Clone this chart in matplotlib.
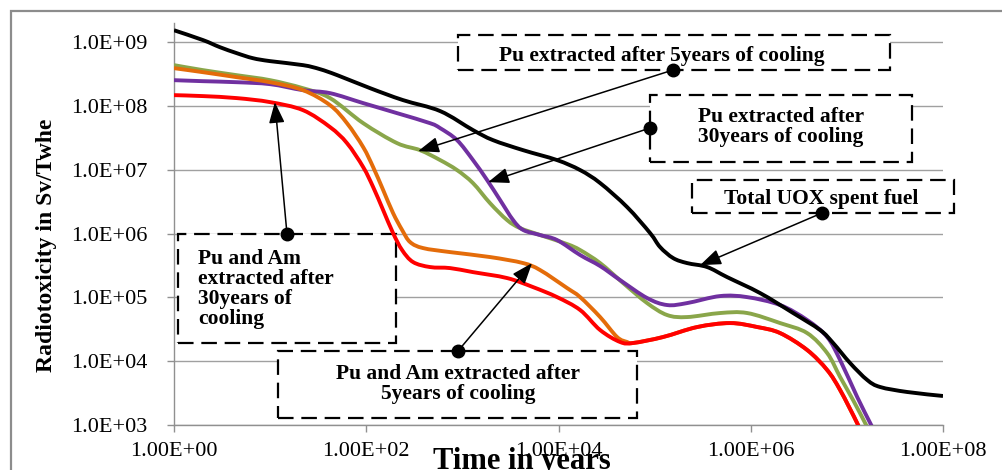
import matplotlib
matplotlib.use("Agg")
import numpy as np
import matplotlib.pyplot as plt
from matplotlib.patches import Rectangle, PathPatch
from matplotlib.path import Path
from matplotlib.lines import Line2D
from matplotlib.ticker import FixedLocator, FuncFormatter, NullLocator

# ---------------- data (years, Sv/TWhe) ----------------
t_total = [1, 2.0, 3.0, 4.5, 6.6, 10, 22, 33, 50, 110, 240, 590, 1290, 2080, 4290, 9660,
           16800, 27100, 51800, 89700, 114000, 156000, 218000, 352000, 568000, 1.25e6,
           2.76e6, 5.27e6, 7.19e6, 1.08e7, 1.63e7, 2.22e7, 4.25e7, 1.0e8]
v_total = [1.54e9, 1.08e9, 8.36e8, 6.73e8, 5.62e8, 5.05e8, 4.37e8, 3.78e8, 3.04e8, 1.90e8,
           1.24e8, 8.30e7, 4.19e7, 2.92e7, 2.03e7, 1.42e7, 9.9e6, 6.2e6, 2.6e6, 1.02e6,
           6.15e5, 4.13e5, 3.45e5, 2.99e5, 2.08e5, 1.17e5, 5.69e4, 3.08e4, 1.93e4, 9.36e3,
           5.07e3, 3.94e3, 3.29e3, 2.85e3]

t_pu5 = [1, 2.0, 4.5, 10, 22, 42, 93, 209, 363, 587, 880, 1290, 1940, 2920, 3980, 6440,
         12300, 16800, 27100, 47000, 83500, 135000, 218000, 481000, 918000, 2.02e6, 3.86e6,
         6.24e6, 8.51e6, 1.16e7, 1.55e7, 1.79e7]
v_pu5 = [4.37e8, 3.65e8, 3.04e8, 2.54e8, 1.90e8, 1.33e8, 5.38e7, 2.62e7, 2.03e7, 1.42e7,
         9.9e6, 6.18e6, 3.0e6, 1.63e6, 1.22e6, 9.5e5, 6.85e5, 5.52e5, 3.45e5, 1.68e5,
         8.15e4, 5.29e4, 4.92e4, 5.69e4, 5.69e4, 3.96e4, 2.76e4, 1.34e4, 5.65e3, 2.46e3,
         1.07e3, 6.97e2]

t_pu30 = [1, 2.0, 4.5, 10, 22, 42, 93, 209, 461, 587, 880, 1290, 1810, 2470, 3370, 4290,
          6440, 9670, 16800, 27100, 43700, 83500, 135000, 218000, 481000, 918000, 2.02e6,
          3.86e6, 6.24e6, 8.51e6, 1.28e7, 1.75e7, 2.02e7]
v_pu30 = [2.54e8, 2.45e8, 2.36e8, 2.20e8, 1.77e8, 1.59e8, 1.11e8, 7.73e7, 5.38e7, 4.50e7,
          2.92e7, 1.42e7, 6.89e6, 3.35e6, 1.63e6, 1.14e6, 9.49e5, 7.92e5, 4.61e5, 3.10e5,
          1.87e5, 9.77e4, 7.59e4, 8.15e4, 1.05e5, 1.01e5, 7.59e4, 4.42e4, 2.39e4, 1.04e4,
          2.75e3, 1.07e3, 6.97e2]

t_puam5 = [1, 2.0, 4.5, 10, 22, 42, 63, 93, 118, 150, 190, 236, 286, 390, 745, 1940, 4290,
           6440, 12300, 16800, 27100, 40700, 51800, 59800, 122000, 277000, 611000, 1.17e6,
           2.02e6, 3.86e6, 6.24e6, 8.51e6, 1.28e7, 1.44e7]
v_puam5 = [3.92e8, 3.39e8, 2.83e8, 2.36e8, 1.77e8, 1.03e8, 5.38e7, 2.26e7, 1.10e7, 4.81e6,
           2.10e6, 1.14e6, 7.36e5, 5.93e5, 5.13e5, 4.29e5, 3.45e5, 2.68e5, 1.40e5, 1.01e5,
           4.92e4, 2.39e4, 2.0e4, 1.93e4, 2.39e4, 3.43e4, 3.96e4, 3.43e4, 2.76e4, 1.50e4,
           7.27e3, 3.53e3, 1.07e3, 6.97e2]

t_puam30 = [1, 2.0, 4.5, 10, 22, 42, 63, 93, 118, 150, 190, 236, 307, 461, 745, 1290, 2920,
            5440, 9670, 16800, 27100, 43700, 59800, 122000, 277000, 611000, 1.17e6, 2.02e6,
            3.86e6, 6.24e6, 8.51e6, 1.28e7, 1.44e7]
v_puam30 = [1.48e8, 1.43e8, 1.33e8, 1.15e8, 8.6e7, 4.67e7, 2.62e7, 1.10e7, 5.36e6, 2.33e6,
            1.02e6, 5.52e5, 3.58e5, 2.99e5, 2.88e5, 2.49e5, 2.01e5, 1.45e5, 1.01e5, 6.34e4,
            3.08e4, 2.0e4, 1.93e4, 2.39e4, 3.43e4, 3.96e4, 3.43e4, 2.76e4, 1.50e4, 7.27e3,
            3.53e3, 1.07e3, 6.97e2]

x_ticks = [1, 1e2, 1e4, 1e6, 1e8]
y_ticks = [1e3, 1e4, 1e5, 1e6, 1e7, 1e8, 1e9]

labels = {
    "pu5": "Pu extracted after 5years of cooling",
    "pu30": "Pu extracted after\n30years of cooling",
    "total": "Total UOX spent fuel",
    "puam30": "Pu and Am\nextracted after\n30years of\ncooling",
    "puam5": "Pu and Am extracted after\n5years of cooling",
}
# arrow targets on the curves (years, Sv/TWhe)
targets = {
    "pu5": (346, 1.96e7),
    "pu30": (1850, 6.4e6),
    "total": (2.97e5, 3.2e5),
    "puam30": (11.2, 1.15e8),
    "puam5": (5310, 3.45e5),
}

# ---------------- figure ----------------
W, H = 1002, 470
fig = plt.figure(figsize=(W / 100, H / 100), dpi=100)
SERIF = ["Liberation Serif", "DejaVu Serif"]
plt.rcParams["font.family"] = SERIF


def fx(x):
    return x / W


def fy(y):
    return 1 - y / H


ax = fig.add_axes([fx(174), fy(425), fx(943) - fx(174), fy(23) - fy(425)])
ax.set_xscale("log")
ax.set_yscale("log")
ax.set_xlim(1, 1e8)
ax.set_ylim(1e3, 2.0e9)

GRID = "#a0a0a0"
for s in ["top", "right"]:
    ax.spines[s].set_visible(False)
for s in ["left", "bottom"]:
    ax.spines[s].set_color("#909090")
    ax.spines[s].set_linewidth(1.0)

ax.xaxis.set_major_locator(FixedLocator(x_ticks))
ax.yaxis.set_major_locator(FixedLocator(y_ticks))
ax.xaxis.set_minor_locator(NullLocator())
ax.yaxis.set_minor_locator(NullLocator())
ax.xaxis.set_major_formatter(FuncFormatter(lambda v, p: f"{v:.2E}"))
ax.yaxis.set_major_formatter(FuncFormatter(lambda v, p: f"{v:.1E}"))
ax.tick_params(axis="both", direction="out", length=5, width=1.0, color="#909090",
               labelsize=16, labelcolor="black")
ax.tick_params(axis="y", pad=14)
ax.tick_params(axis="x", pad=7)
ax.yaxis.grid(True, color=GRID, linewidth=1.0, zorder=0)
ax.set_axisbelow(True)


def smooth_line(ax, t, v, color, z, lw=2.8):
    """Excel-like smoothed line: Catmull-Rom segments (in log space) as Bezier path."""
    lx = np.log10(np.asarray(t, float))
    ly = np.log10(np.asarray(v, float))
    P = np.column_stack([lx, ly])
    n = len(P)
    verts = [P[0]]
    codes = [Path.MOVETO]
    for i in range(n - 1):
        p0 = P[i - 1] if i > 0 else P[i]
        p1, p2 = P[i], P[i + 1]
        p3 = P[i + 2] if i + 2 < n else P[i + 1]
        c1 = p1 + (p2 - p0) / 6.0
        c2 = p2 - (p3 - p1) / 6.0
        verts += [c1, c2, p2]
        codes += [Path.CURVE4] * 3
    verts = 10 ** np.array(verts)
    patch = PathPatch(Path(verts, codes), facecolor="none", edgecolor=color, lw=lw,
                      transform=ax.transData, zorder=z, capstyle="butt", joinstyle="round")
    ax.add_patch(patch)


# curves
smooth_line(ax, t_pu5, v_pu5, "#8aa64a", 3.0)
smooth_line(ax, t_pu30, v_pu30, "#7030a0", 3.1)
smooth_line(ax, t_puam5, v_puam5, "#e46c0a", 3.2)
smooth_line(ax, t_puam30, v_puam30, "#ff0000", 3.3)
smooth_line(ax, t_total, v_total, "black", 3.4)

# annotation boxes (pixel layout)
boxes = {
    "pu5": (458, 35, 890, 70),
    "pu30": (650, 95, 912, 162),
    "total": (692, 180, 954, 213),
    "puam30": (178, 234, 396, 343),
    "puam5": (278, 351, 637, 418),
}
text_pos = {
    "pu5": (662, 56, "center"),
    "pu30": (781, 127, "center"),
    "total": (821, 199, "center"),
    "puam30": (198, 289, "left"),
    "puam5": (458, 384, "center"),
}
dots = {
    "pu5": (673, 70),
    "pu30": (650, 128),
    "total": (822, 213),
    "puam30": (287, 234),
    "puam5": (458, 351),
}

for k, (x0, y0, x1, y1) in boxes.items():
    r = Rectangle((fx(x0), fy(y1)), fx(x1) - fx(x0), fy(y0) - fy(y1),
                  transform=fig.transFigure, facecolor="white", edgecolor="black",
                  linewidth=1.6, linestyle=(0, (7, 3.5)), clip_on=False, zorder=2)
    ax.add_patch(r)
    tx, ty, al = text_pos[k]
    ax.text(fx(tx), fy(ty), labels[k], transform=fig.transFigure, ha=al, va="center",
            multialignment=al, fontsize=15.5, fontweight="bold", linespacing=1.02,
            family=SERIF, zorder=2.5, clip_on=False)

for k, (dx, dy) in dots.items():
    ax.annotate("", xy=targets[k], xycoords="data", xytext=(fx(dx), fy(dy)),
                textcoords="figure fraction", annotation_clip=False,
                arrowprops=dict(arrowstyle="-|>,head_length=0.8,head_width=0.3",
                                mutation_scale=16, color="black", lw=1.1,
                                shrinkA=0, shrinkB=0), zorder=4)
    ax.add_line(Line2D([fx(dx)], [fy(dy)], transform=fig.transFigure, marker="o",
                       markersize=9, color="black", clip_on=False, zorder=5))

# axis titles
fig.text(fx(47), fy(245), "Radiotoxicity in Sv/Twhe", rotation=90, ha="center",
         va="center", fontsize=17, fontweight="bold", family=SERIF)
fig.text(fx(522), fy(469), "Time in years", ha="center", va="baseline",
         fontsize=22, fontweight="bold", family=SERIF)

# outer gray frame
fig.add_artist(Rectangle((fx(11), fy(480)), fx(1012) - fx(11), fy(11) - fy(480),
                         transform=fig.transFigure, facecolor="none",
                         edgecolor="#8c8c8c", linewidth=1.6))

fig.savefig("out.png", dpi=100)
